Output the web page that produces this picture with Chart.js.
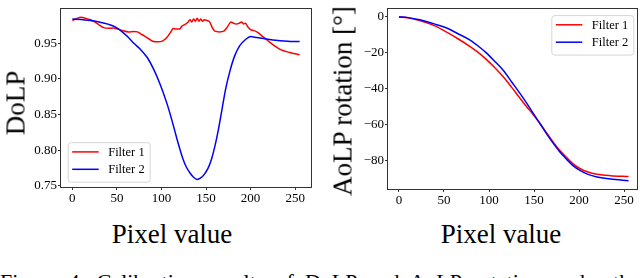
<!DOCTYPE html>
<html><head><meta charset="utf-8">
<script src="https://cdn.jsdelivr.net/npm/chart.js@4/dist/chart.umd.min.js"></script>
<style>
html,body{margin:0;padding:0;background:#fff;width:640px;height:278px;overflow:hidden;}
#wrap{position:relative;width:640px;height:278px;overflow:hidden;font-family:"Liberation Serif","Times New Roman",serif;color:#000;}
canvas{position:absolute;top:0;}
.t{position:absolute;white-space:nowrap;line-height:1;font-size:27px;}
.cap{position:absolute;left:0;width:640px;top:271px;font-size:22px;line-height:1;text-align:justify;text-align-last:justify;white-space:nowrap;}
</style></head><body>
<div id="wrap">
<canvas id="c1" width="320" height="215" style="left:0"></canvas>
<canvas id="c2" width="320" height="217" style="left:320px"></canvas>
<div class="t" style="left:172px;top:220.5px;transform:translateX(-50%)">Pixel value</div>
<div class="t" style="left:501px;top:220.5px;transform:translateX(-50%)">Pixel value</div>
<div class="t" style="left:15.9px;top:102.5px;transform:translate(-50%,-50%) rotate(-90deg)">DoLP</div>
<div class="t" style="left:342.6px;top:101px;transform:translate(-50%,-50%) rotate(-90deg)">AoLP rotation [°]</div>
<div class="cap">Figure 4: Calibration results of DoLP and AoLP rotation under the</div>
</div>
<script>
// ---- data ----
const seriesLabels = ["Filter 1", "Filter 2"];
const xTickValues = [0, 50, 100, 150, 200, 250];
const dolpTickValues = [0.75, 0.80, 0.85, 0.90, 0.95];
const aolpTickValues = [-80, -60, -40, -20, 0];

const dolpF1Pixel = [0,5,10,15,20,25,30,35,41,46,51,57,63,69,73,77,81,86,91,96,101,106,111,113,116,120,123,127,130,132,134,136,138,140,142,144,146,148,151,154,157,160,165,170,174,178,181,184,187,190,192,194,197,200,203,207,213,218,225,233,244,255];
const dolpF1 = [0.982,0.985,0.9865,0.985,0.983,0.980,0.976,0.972,0.971,0.9715,0.970,0.9675,0.966,0.9665,0.966,0.963,0.960,0.956,0.9525,0.952,0.953,0.958,0.967,0.9706,0.970,0.970,0.974,0.977,0.980,0.983,0.980,0.984,0.981,0.985,0.981,0.984,0.981,0.983,0.982,0.980,0.972,0.967,0.966,0.967,0.973,0.980,0.978,0.977,0.978,0.980,0.977,0.978,0.973,0.969,0.968,0.966,0.960,0.955,0.948,0.9415,0.937,0.934];

const dolpF2Pixel = [0,10,20,30,41,48,56,63,69,76,84,91,98,106,111,116,120,124,128,132,136,140,144,148,152,156,160,164,168,172,177,182,188,194,200,207,218,233,248,255];
const dolpF2 = [0.984,0.9835,0.982,0.980,0.9765,0.973,0.966,0.958,0.950,0.942,0.930,0.914,0.894,0.866,0.845,0.822,0.804,0.788,0.776,0.768,0.762,0.759,0.761,0.766,0.774,0.787,0.806,0.830,0.858,0.886,0.912,0.932,0.947,0.955,0.9594,0.958,0.956,0.9536,0.9525,0.9525];

const aolpPixel = [0,10,23,40,53,65,79,90,97,106,116,125,134,142,149,157,164,171,178,186,193,201,210,220,235,255];
const aolpF1 = [0,-0.5,-2.0,-5,-8.5,-12,-16.5,-20.5,-23.6,-28,-33.4,-39,-44.9,-50,-54.2,-59.5,-64.5,-69.3,-73.8,-78,-81.5,-84.2,-86.2,-87.4,-88.2,-88.7];
const aolpF2 = [0,-0.4,-1.6,-4,-6.2,-9.2,-12.9,-17,-20,-24.5,-29.8,-36,-42.2,-48,-53.5,-59.5,-65,-70,-74.6,-79,-82.5,-85.3,-87.5,-88.9,-90.1,-91.0];

// ---- helpers ----
const FONT = '"Liberation Serif","Times New Roman",serif';
const pts = (xs, ys) => xs.map((x, i) => ({x: x, y: ys[i]}));

const framePlugin = {
  id: 'frame',
  afterDraw(chart) {
    const a = chart.chartArea, ctx = chart.ctx;
    ctx.save();
    ctx.strokeStyle = '#333';
    ctx.lineWidth = 1;
    ctx.strokeRect(Math.round(a.left) - 0.5, Math.round(a.top) - 0.5, Math.round(a.right - a.left) + 1, Math.round(a.bottom - a.top) + 1);
    ctx.restore();
  }
};

const legendPlugin = {
  id: 'boxLegend',
  afterDraw(chart, args, opts) {
    const a = chart.chartArea, ctx = chart.ctx;
    const w = 82, h = 39.5;
    let x0, y0;
    if (opts.loc === 'lower left') { x0 = a.left + 6.7; y0 = a.bottom - 5.3 - h; }
    else { x0 = a.right - 3.7 - w; y0 = a.top + 6.3; }
    ctx.save();
    ctx.beginPath();
    if (ctx.roundRect) ctx.roundRect(x0 + 0.5, y0 + 0.5, w, h, 3); else ctx.rect(x0 + 0.5, y0 + 0.5, w, h);
    ctx.fillStyle = 'rgba(255,255,255,0.8)';
    ctx.fill();
    ctx.strokeStyle = '#d6d6d6';
    ctx.lineWidth = 1;
    ctx.stroke();
    ctx.font = '12.5px ' + FONT;
    ctx.textBaseline = 'middle';
    ctx.fillStyle = '#000';
    chart.data.datasets.slice().sort((p, q) => p.legendIndex - q.legendIndex).forEach((ds, i) => {
      const y = y0 + 9.7 + i * 17.4;
      ctx.beginPath();
      ctx.strokeStyle = ds.borderColor;
      ctx.lineWidth = 1.5;
      ctx.moveTo(x0 + 4.5, y);
      ctx.lineTo(x0 + 31, y);
      ctx.stroke();
      ctx.fillText(ds.label, x0 + 40.5, y + 0.5);
    });
    ctx.restore();
  }
};

function makeChart(id, d1, d2, yMin, yMax, yTicks, yFmt, yWidth, rightPad, xMin, xMax, legendLoc) {
  const tickFont = {family: FONT, size: 13};
  return new Chart(document.getElementById(id), {
    type: 'line',
    data: {
      datasets: [
        {label: seriesLabels[0], data: d1, borderColor: '#ff0000', borderWidth: 1.5, pointRadius: 0, fill: false, cubicInterpolationMode: 'monotone', order: 1, legendIndex: 0},
        {label: seriesLabels[1], data: d2, borderColor: '#0000ff', borderWidth: 1.5, pointRadius: 0, fill: false, cubicInterpolationMode: 'monotone', order: 0, legendIndex: 1}
      ]
    },
    options: {
      responsive: false, animation: false, devicePixelRatio: 1,
      layout: {autoPadding: false, padding: {left: 0, right: rightPad, top: 1, bottom: 0}},
      plugins: {legend: {display: false}, tooltip: {enabled: false}, boxLegend: {loc: legendLoc}},
      scales: {
        x: {
          type: 'linear', min: xMin, max: xMax, bounds: 'data',
          afterBuildTicks: s => { s.ticks = xTickValues.map(v => ({value: v})); },
          afterFit: s => { s.height = 28; },
          grid: {display: true, drawOnChartArea: false, drawTicks: true, tickLength: 3, color: '#333', lineWidth: 1},
          border: {display: false},
          ticks: {font: tickFont, color: '#000', padding: 1, maxRotation: 0, autoSkip: false, callback: v => String(v)}
        },
        y: {
          type: 'linear', min: yMin, max: yMax, bounds: 'data',
          afterBuildTicks: s => { s.ticks = yTicks.map(v => ({value: v})); },
          afterFit: s => { s.width = yWidth; },
          grid: {display: true, drawOnChartArea: false, drawTicks: true, tickLength: 3, color: '#333', lineWidth: 1},
          border: {display: false},
          ticks: {font: tickFont, color: '#000', padding: 1, autoSkip: false, callback: yFmt}
        }
      }
    },
    plugins: [framePlugin, legendPlugin]
  });
}

makeChart('c1', pts(dolpF1Pixel, dolpF1), pts(dolpF2Pixel, dolpF2), 0.7483, 0.9984, dolpTickValues,
  v => v.toFixed(2), 61, 9, -12.75, 267.75, 'lower left');
makeChart('c2', pts(aolpPixel, aolpF1), pts(aolpPixel, aolpF2), -95.6, 4.5, aolpTickValues,
  v => (v < 0 ? '\u2212' + Math.abs(v) : String(v)), 68, 3, -12.2, 264.4, 'upper right');
</script>
</body></html>
